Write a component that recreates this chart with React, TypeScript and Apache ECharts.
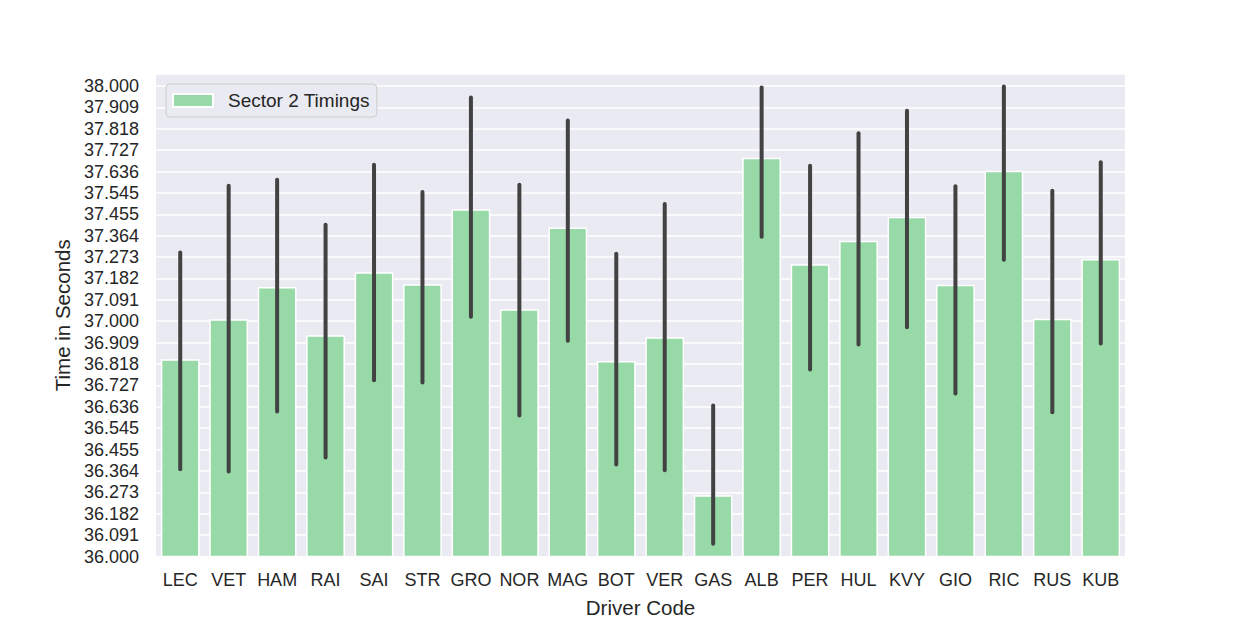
import React, { useEffect, useRef } from "react";
import * as echarts from "echarts";

// Driver codes along the x axis
const drivers = [
  "LEC", "VET", "HAM", "RAI", "SAI", "STR", "GRO", "NOR", "MAG", "BOT",
  "VER", "GAS", "ALB", "PER", "HUL", "KVY", "GIO", "RIC", "RUS", "KUB",
];

// Mean sector 2 time per driver (seconds)
const sector2Mean = [
  36.838, 37.008, 37.146, 36.940, 37.208, 37.157, 37.476, 37.051, 37.399, 36.831,
  36.932, 36.260, 37.695, 37.242, 37.342, 37.444, 37.155, 37.640, 37.011, 37.265,
];

// Confidence interval bounds per driver (seconds)
const ciLow = [
  36.371, 36.361, 36.616, 36.421, 36.749, 36.740, 37.019, 36.599, 36.917, 36.391,
  36.367, 36.054, 37.359, 36.795, 36.901, 36.975, 36.693, 37.261, 36.613, 36.905,
];
const ciHigh = [
  37.292, 37.576, 37.601, 37.410, 37.665, 37.549, 37.951, 37.580, 37.853, 37.287,
  37.498, 36.642, 37.994, 37.661, 37.799, 37.895, 37.574, 37.998, 37.555, 37.676,
];

// Y axis: 22 equal steps from 36 to 38
const yMin = 36;
const yStep = 2 / 22;
const yTop = 38;
const yMax = 38.051;

const FONT = "'Liberation Sans', Arial, sans-serif";
const TEXT = "#262626";

export default function App() {
  const ref = useRef<HTMLDivElement>(null);

  useEffect(() => {
    if (!ref.current) return;
    const chart = echarts.init(ref.current, undefined, { renderer: "svg" });

    const errData = drivers.map((_, i) => [i, ciLow[i], ciHigh[i]]);

    chart.setOption({
      animation: false,
      backgroundColor: "#ffffff",
      textStyle: { fontFamily: FONT },
      grid: {
        left: 156,
        right: 125,
        top: 74,
        bottom: 68.5,
        containLabel: false,
        outerBoundsMode: "none",
      },
      legend: {
        left: 166,
        top: 84,
        orient: "vertical",
        data: [{ name: "Sector 2 Timings", icon: "rect" }],
        itemWidth: 40,
        itemHeight: 13,
        itemGap: 8,
        padding: [7, 7, 7, 6],
        backgroundColor: "#EAEAF2",
        borderColor: "#CCCCCC",
        borderWidth: 1,
        borderRadius: 4,
        textStyle: { fontSize: 19, color: TEXT, fontFamily: FONT, padding: [0, 0, 0, 10] },
      },
      xAxis: {
        type: "category",
        data: drivers,
        boundaryGap: true,
        name: "Driver Code",
        nameLocation: "middle",
        nameGap: 40,
        nameTextStyle: { fontSize: 20.5, color: TEXT, fontFamily: FONT },
        axisLine: { show: false },
        axisTick: { show: false },
        axisLabel: { fontSize: 18, color: TEXT, margin: 14, interval: 0, fontFamily: FONT },
        splitLine: { show: false },
      },
      yAxis: {
        type: "value",
        min: yMin,
        max: yMax,
        interval: yStep,
        name: "Time in Seconds",
        nameLocation: "middle",
        nameGap: 83,
        nameTextStyle: { fontSize: 20.5, color: TEXT, fontFamily: FONT },
        axisLine: { show: false },
        axisTick: { show: false },
        axisLabel: {
          fontSize: 18,
          color: TEXT,
          margin: 17,
          fontFamily: FONT,
          formatter: (v: number) => (v > yTop + 0.001 ? "" : v.toFixed(3)),
        },
        splitLine: { show: true, lineStyle: { color: "#ffffff", width: 1.5 } },
      },
      series: [
        {
          name: "Sector 2 Timings",
          type: "bar",
          data: sector2Mean,
          barWidth: "80%",
          itemStyle: { color: "#98D9A8", borderColor: "#ffffff", borderWidth: 1.5 },
          z: 2,
        },
        {
          name: "ci",
          type: "custom",
          data: errData,
          z: 3,
          silent: true,
          renderItem: (_params: any, api: any) => {
            const x = api.value(0);
            const lo = api.coord([x, api.value(1)]);
            const hi = api.coord([x, api.value(2)]);
            return {
              type: "line",
              shape: { x1: lo[0], y1: lo[1], x2: hi[0], y2: hi[1] },
              style: { stroke: "#424242", lineWidth: 4, lineCap: "round" },
            };
          },
        },
      ],
      graphic: [
        {
          type: "rect",
          z: -1,
          silent: true,
          shape: { x: 156, y: 74, width: 969, height: 482.5 },
          style: { fill: "#EAEAF2" },
        },
      ],
    });

    return () => chart.dispose();
  }, []);

  return (
    <div
      ref={ref}
      style={{ position: "absolute", left: 0, top: 0, width: 1250, height: 625 }}
    />
  );
}
